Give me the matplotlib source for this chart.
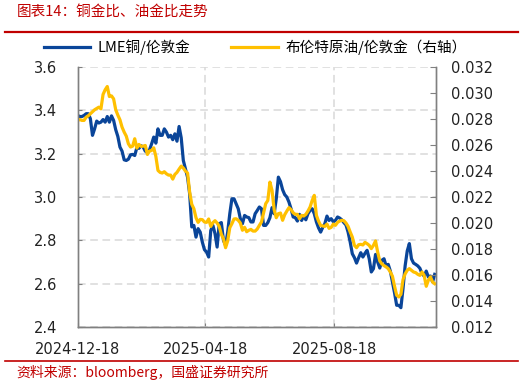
import matplotlib
matplotlib.use("Agg")
import matplotlib.pyplot as plt
import pandas as pd

plt.rcParams['font.family'] = ['DejaVu Sans', 'Noto Sans CJK SC']

start_date = "2024-12-18"
step = "2D"

copper_gold = [
    3.377, 3.372, 3.372, 3.377, 3.385, 3.385, 3.362, 3.285, 3.315, 3.351,
    3.342, 3.346, 3.358, 3.346, 3.372, 3.346, 3.375, 3.354, 3.311, 3.280,
    3.231, 3.212, 3.172, 3.169, 3.175, 3.195, 3.197, 3.192, 3.228, 3.225,
    3.237, 3.231, 3.212, 3.206, 3.218, 3.246, 3.277, 3.249, 3.315, 3.285,
    3.285, 3.315, 3.300, 3.277, 3.285, 3.265, 3.292, 3.258, 3.326, 3.274,
    3.169, 3.131, 3.092, 3.015, 2.862, 2.869, 2.815, 2.854, 2.838, 2.792,
    2.757, 2.746, 2.723, 2.846, 2.869, 2.831, 2.769, 2.877, 2.882, 2.800,
    2.777, 2.838, 2.923, 2.992, 2.992, 2.969, 2.946, 2.900, 2.877, 2.915,
    2.908, 2.905, 2.885, 2.885, 2.923, 2.938, 2.954, 2.946, 2.869, 2.869,
    2.882, 2.905, 2.951, 2.923, 2.992, 3.092, 3.071, 3.034, 3.011, 3.000,
    2.977, 2.946, 2.908, 2.905, 2.889, 2.920, 2.892, 2.914, 2.895, 2.923,
    2.938, 2.946, 2.923, 2.885, 2.858, 2.838, 2.860, 2.877, 2.912, 2.892,
    2.900, 2.886, 2.892, 2.908, 2.903, 2.895, 2.882, 2.871, 2.838, 2.792,
    2.738, 2.720, 2.695, 2.720, 2.743, 2.723, 2.740, 2.754, 2.715, 2.654,
    2.669, 2.735, 2.700, 2.672, 2.708, 2.715, 2.682, 2.689, 2.658, 2.608,
    2.557, 2.500, 2.500, 2.489, 2.577, 2.682, 2.751, 2.785, 2.715, 2.695,
    2.689, 2.682, 2.671, 2.646, 2.635, 2.658, 2.631, 2.635, 2.608, 2.643,
]

oil_gold = [
    0.02790, 0.02797, 0.02790, 0.02790, 0.02815, 0.02826, 0.02841, 0.02856, 0.02872, 0.02882,
    0.02892, 0.02879, 0.02990, 0.03026, 0.03051, 0.02974, 0.02979, 0.02956, 0.02872, 0.02831,
    0.02795, 0.02738, 0.02700, 0.02669, 0.02610, 0.02585, 0.02592, 0.02649, 0.02577, 0.02605,
    0.02590, 0.02592, 0.02597, 0.02528, 0.02554, 0.02559, 0.02579, 0.02513, 0.02405, 0.02390,
    0.02385, 0.02395, 0.02379, 0.02369, 0.02369, 0.02338, 0.02374, 0.02390, 0.02415, 0.02438,
    0.02423, 0.02400, 0.02385, 0.02238, 0.02144, 0.02110, 0.02041, 0.02005, 0.02028, 0.02026,
    0.02008, 0.02005, 0.02031, 0.01974, 0.02003, 0.02018, 0.02000, 0.01974, 0.01913, 0.01879,
    0.01810, 0.01862, 0.01964, 0.01995, 0.02031, 0.02033, 0.02021, 0.02000, 0.01944, 0.01967,
    0.01933, 0.01944, 0.01951, 0.01938, 0.01938, 0.01954, 0.01982, 0.02008, 0.02079, 0.02149,
    0.02174, 0.02315, 0.02251, 0.02103, 0.02041, 0.02072, 0.02077, 0.02021, 0.02064, 0.02092,
    0.02118, 0.02103, 0.02079, 0.02067, 0.02067, 0.02033, 0.02059, 0.02054, 0.02067, 0.02092,
    0.02123, 0.02174, 0.02213, 0.02059, 0.02015, 0.01982, 0.01977, 0.01974, 0.01992, 0.01959,
    0.01967, 0.01992, 0.01982, 0.02005, 0.02015, 0.02021, 0.02018, 0.02000, 0.01974, 0.01931,
    0.01892, 0.01828, 0.01810, 0.01833, 0.01836, 0.01831, 0.01851, 0.01841, 0.01828, 0.01803,
    0.01828, 0.01862, 0.01777, 0.01708, 0.01685, 0.01672, 0.01662, 0.01649, 0.01623, 0.01590,
    0.01513, 0.01444, 0.01431, 0.01451, 0.01564, 0.01608, 0.01636, 0.01649, 0.01636, 0.01623,
    0.01618, 0.01605, 0.01597, 0.01623, 0.01597, 0.01513, 0.01559, 0.01585, 0.01546, 0.01533,
]

x_ticks = ["2024-12-18", "2025-04-18", "2025-08-18"]
left_ticks = [2.4, 2.6, 2.8, 3.0, 3.2, 3.4, 3.6]
right_ticks = [0.012, 0.014, 0.016, 0.018, 0.020, 0.022, 0.024, 0.026, 0.028, 0.030, 0.032]

title = "图表14：铜金比、油金比走势"
source = "资料来源：bloomberg，国盛证券研究所"
label_cu = "LME铜/伦敦金"
label_oil = "布伦特原油/伦敦金（右轴）"

dates = pd.date_range(start_date, periods=len(copper_gold), freq=step)

BLUE = "#0A4599"
YELLOW = "#FFC000"
RED = "#C00000"
CJK = ['Noto Sans CJK SC', 'DejaVu Sans']

fig = plt.figure(figsize=(5.25, 3.86), dpi=100)
ax = fig.add_axes([0.148, 0.153, 0.682, 0.673])
ax2 = ax.twinx()

l1, = ax.plot(dates, copper_gold, color=BLUE, lw=2.3, label=label_cu)
l2, = ax2.plot(dates, oil_gold, color=YELLOW, lw=2.3, label=label_oil)

ax.set_ylim(2.4, 3.6)
ax.set_yticks(left_ticks)
ax.set_yticklabels([f"{v:.1f}" for v in left_ticks])
ax2.set_ylim(0.012, 0.032)
ax2.set_yticks(right_ticks)
ax2.set_yticklabels([f"{v:.3f}" for v in right_ticks])

xt = pd.to_datetime(x_ticks)
ax.set_xlim(pd.Timestamp(start_date), dates[-1] + pd.Timedelta(days=1))
ax.set_xticks(xt)
ax.set_xticklabels(x_ticks)

ax.grid(True, axis='both', color='#D9D9D9', linestyle=(0, (5, 3)), lw=1.1)
ax.set_axisbelow(True)

for a in (ax, ax2):
    a.spines['top'].set_visible(False)
    for s in ('left', 'right', 'bottom'):
        a.spines[s].set_color('#808080')
        a.spines[s].set_linewidth(1.0)

ax.tick_params(axis='y', direction='in', length=3, color='#808080', labelsize=10.5, pad=15, labelcolor='#222222')
ax.tick_params(axis='x', direction='in', length=3, color='#808080', labelsize=10.5, pad=11, labelcolor='#222222')
ax2.tick_params(axis='y', direction='in', length=4, color='#808080', labelsize=10.5, pad=11, labelcolor='#222222')

# Title and separators
fig.text(0.032, 0.969, title, color=RED, fontsize=10.5, family=CJK, style='italic', va='center', ha='left')
fig.add_artist(plt.Line2D([0.01, 0.987], [0.917, 0.917], color=RED, lw=1.6, transform=fig.transFigure))
fig.add_artist(plt.Line2D([0.01, 0.987], [0.065, 0.065], color=RED, lw=1.2, transform=fig.transFigure))
fig.text(0.032, 0.034, source, color=RED, fontsize=10, family=CJK, style='italic', va='center', ha='left')

leg = fig.legend(handles=[l1, l2], loc='center', bbox_to_anchor=(0.486, 0.878), ncol=2,
                 frameon=False, prop={'family': CJK, 'size': 10.5}, handlelength=3.2,
                 columnspacing=2.8, handletextpad=0.5)

fig.savefig("out.png", dpi=100)
